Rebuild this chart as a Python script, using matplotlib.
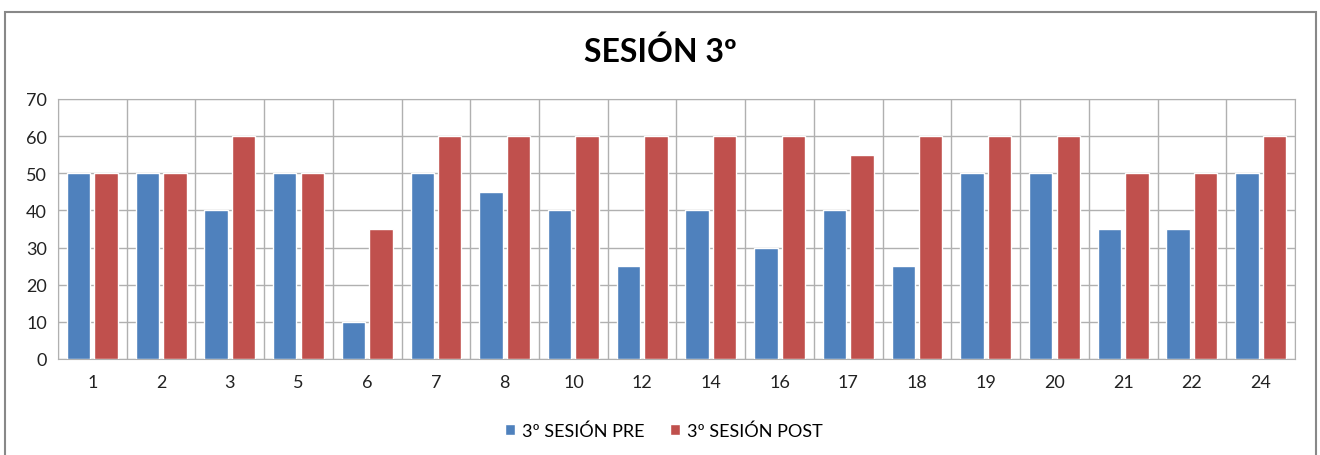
import numpy as np
import matplotlib.pyplot as plt
from matplotlib.patches import Rectangle

plt.rcParams['font.family'] = ['Lato', 'DejaVu Sans']

# Datos
sujetos = ['1', '2', '3', '5', '6', '7', '8', '10', '12', '14', '16', '17',
           '18', '19', '20', '21', '22', '24']
pre = [50, 50, 40, 50, 10, 50, 45, 40, 25, 40, 30, 40, 25, 50, 50, 35, 35, 50]
post = [50, 50, 60, 50, 35, 60, 60, 60, 60, 60, 60, 55, 60, 60, 60, 50, 50, 60]

azul = '#4F81BD'
rojo = '#C0504D'
gris = '#B0B0B0'

fig = plt.figure(figsize=(13.2, 4.56), dpi=100)
ax = fig.add_axes([58/1320, 1-360/456, (1295-58)/1320, 260/456])

x = np.arange(len(sujetos))
ancho = 0.34
ax.bar(x - 0.2, pre, ancho, color=azul, edgecolor='white', lw=1.0,
       label='3º SESIÓN PRE', zorder=3)
ax.bar(x + 0.2, post, ancho, color=rojo, edgecolor='white', lw=1.0,
       label='3º SESIÓN POST', zorder=3)

ax.set_xlim(-0.5, len(sujetos) - 0.5)
ax.set_ylim(0, 70)
ax.set_yticks(range(0, 71, 10))
ax.set_xticks(x)
ax.set_xticklabels(sujetos)
ax.tick_params(axis='both', length=0, labelsize=13, colors='#222222')
ax.tick_params(axis='x', pad=11)
ax.tick_params(axis='y', pad=8)

# Rejilla: horizontales en cada 10 y verticales entre categorias
ax.grid(axis='y', color=gris, lw=1, zorder=0)
ax.set_xticks(np.arange(-0.5, len(sujetos)), minor=True)
ax.grid(axis='x', which='minor', color=gris, lw=1, zorder=0)
ax.tick_params(axis='x', which='minor', length=0)
for s in ax.spines.values():
    s.set_color(gris)

fig.text(0.5, 1-52/456, 'SESIÓN 3º', ha='center', va='center',
         fontsize=23, fontweight='bold')

fig.legend(loc='center', bbox_to_anchor=(0.503, 1-432/456), ncol=2,
           frameon=False, fontsize=13, handlelength=0.55, handleheight=0.55,
           handletextpad=0.4, columnspacing=1.4)

# Marco exterior del grafico
fig.patches.append(Rectangle((5/1320, -0.1), (1316-5)/1320, 1.1 - 13/456,
                             transform=fig.transFigure, fill=False,
                             edgecolor='#888888', lw=1.5))

fig.savefig('out.png', dpi=100)
